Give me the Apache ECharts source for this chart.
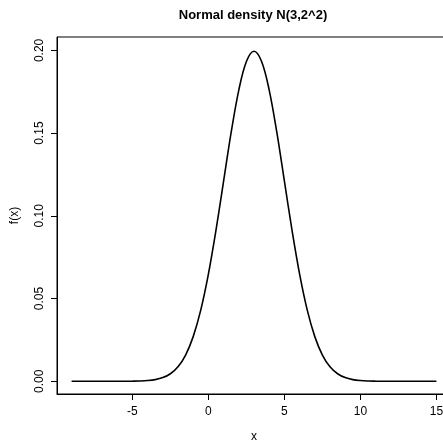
<!DOCTYPE html>
<html>
<head>
<meta charset="utf-8">
<script src="https://cdn.jsdelivr.net/npm/echarts@6/dist/echarts.min.js"></script>
<style>
html,body{margin:0;padding:0;background:#fff;}
#chart{width:443px;height:445px;}
</style>
</head>
<body>
<div id="chart"></div>
<script>
// Values (density curve of N(3, 2^2))
const xValues = [-9,-8.5,-8,-7.5,-7,-6.5,-6,-5.5,-5,-4.5,-4,-3.5,-3,-2.5,-2,-1.5,-1,-0.5,0,0.5,1,1.5,2,2.5,3,3.5,4,4.5,5,5.5,6,6.5,7,7.5,8,8.5,9,9.5,10,10.5,11,11.5,12,12.5,13,13.5,14,14.5,15];
const yValues = [0,0,0,0,0,0,0.00001,0.00002,0.00007,0.00018,0.00044,0.00101,0.00222,0.00455,0.00876,0.01587,0.02700,0.04314,0.06476,0.09132,0.12099,0.15057,0.17603,0.19333,0.19947,0.19333,0.17603,0.15057,0.12099,0.09132,0.06476,0.04314,0.02700,0.01587,0.00876,0.00455,0.00222,0.00101,0.00044,0.00018,0.00007,0.00002,0.00001,0,0,0,0,0,0];
const xTicks = [-5, 0, 5, 10, 15];
const yTicks = [0, 0.05, 0.10, 0.15, 0.20];
const titleText = 'Normal density N(3,2^2)';
const xName = 'x';
const yName = 'f(x)';

const data = xValues.map((x, i) => [x, yValues[i]]);
const font = 'Liberation Sans, Arial, sans-serif';

const chart = echarts.init(document.getElementById('chart'), null, {renderer: 'canvas'});
chart.setOption({
  animation: false,
  backgroundColor: '#fff',
  title: {
    text: titleText,
    left: 248,
    top: 4,
    textAlign: 'center',
    textStyle: {fontFamily: font, fontSize: 13, fontWeight: 'bold', color: '#000'}
  },
  grid: {
    left: 57, top: 37, bottom: 51, right: -8,
    outerBoundsMode: 'none',
    containLabel: false,
    show: true, borderColor: '#000', borderWidth: 1, backgroundColor: 'transparent'
  },
  xAxis: {
    type: 'value',
    min: -9.96, max: 15.96,
    name: xName, nameLocation: 'middle', nameGap: 37,
    nameTextStyle: {fontFamily: font, fontSize: 12, color: '#000'},
    axisLine: {show: true, onZero: false, lineStyle: {color: '#000', width: 1}},
    axisTick: {show: true, length: 6, lineStyle: {color: '#000'}, customValues: xTicks},
    axisLabel: {fontFamily: font, fontSize: 12, color: '#000', margin: 12, customValues: xTicks,
      formatter: v => String(v)},
    splitLine: {show: false}
  },
  yAxis: {
    type: 'value',
    min: -0.00768, max: 0.2081,
    name: yName, nameLocation: 'middle', nameGap: 36, nameRotate: 90,
    nameTextStyle: {fontFamily: font, fontSize: 12, color: '#000'},
    axisLine: {show: true, onZero: false, lineStyle: {color: '#000', width: 1}},
    axisTick: {show: true, length: 6, lineStyle: {color: '#000'}, customValues: yTicks},
    axisLabel: {fontFamily: font, fontSize: 12, color: '#000', rotate: 90, margin: 11,
      customValues: yTicks, formatter: v => v.toFixed(2)},
    splitLine: {show: false}
  },
  series: [{
    type: 'line',
    data: data,
    showSymbol: false,
    smooth: 0.35,
    lineStyle: {color: '#000', width: 1.6},
    clip: true
  }]
});
</script>
</body>
</html>
